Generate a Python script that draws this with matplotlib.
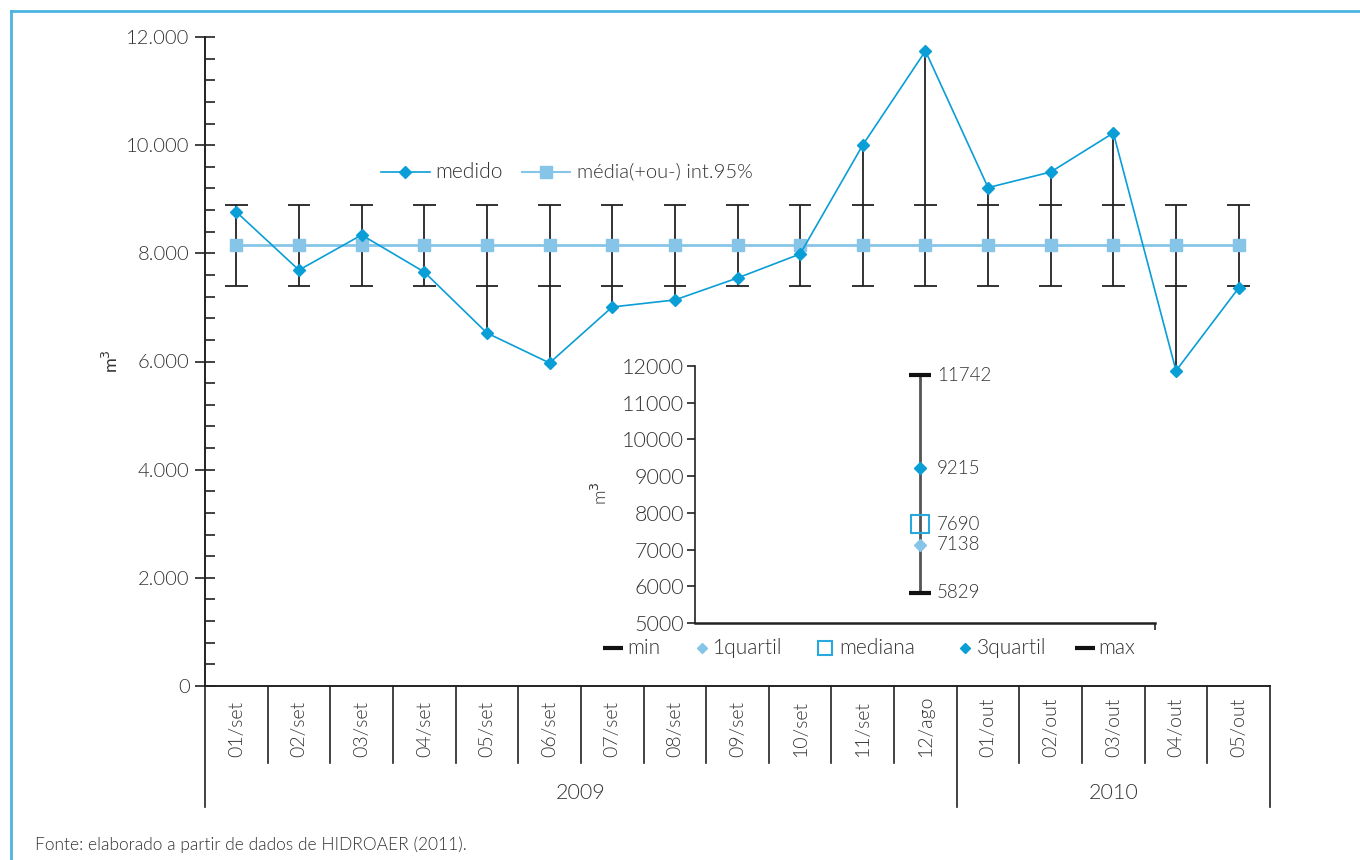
import matplotlib
matplotlib.use("Agg")
import matplotlib.pyplot as plt
from matplotlib.lines import Line2D
import numpy as np

plt.rcParams['font.family'] = ['Lato', 'DejaVu Sans']
plt.rcParams['font.weight'] = 300

# ---- data ----
categories = ["01/set", "02/set", "03/set", "04/set", "05/set", "06/set", "07/set",
              "08/set", "09/set", "10/set", "11/set", "12/ago", "01/out", "02/out",
              "03/out", "04/out", "05/out"]
years = ["2009", "2010"]
year_counts = [12, 5]
medido = [8765, 7690, 8340, 7655, 6527, 5973, 7008, 7138, 7544, 7988, 10004,
          11742, 9215, 9504, 10226, 5829, 7360]
media = [8160] * 17
ic_sup = [8900] * 17
ic_inf = [7390] * 17

inset_labels = ["min", "1quartil", "mediana", "3quartil", "max"]
inset_values = [5829, 7138, 7690, 9215, 11742]

main_yticks = [0, 2000, 4000, 6000, 8000, 10000, 12000]
main_yticklabels = ["0", "2.000", "4.000", "6.000", "8.000", "10.000", "12.000"]
inset_yticks = [5000, 6000, 7000, 8000, 9000, 10000, 11000, 12000]

C_MED = "#0a9ed6"
C_MEAN = "#86c5e8"
C_TXT = "#333333"
C_BAR = "#222222"

W, H = 1360, 860
fig = plt.figure(figsize=(13.6, 8.6), dpi=100)

def fx(x):
    return x / W

def fy(y):
    return 1 - y / H

# ---- main axes ----
ax = fig.add_axes([fx(205), fy(686), fx(1270) - fx(205), fy(37) - fy(686)])
x = np.arange(len(categories))

for i in range(len(categories)):
    lo = min(medido[i], ic_inf[i])
    hi = max(medido[i], ic_sup[i])
    ax.vlines(x[i], lo, hi, color=C_BAR, lw=1.3, zorder=2)
    ax.hlines([ic_sup[i], ic_inf[i]], x[i] - 0.18, x[i] + 0.18, color=C_BAR, lw=1.3, zorder=2)

ax.plot(x, media, color=C_MEAN, lw=2, marker='s', ms=9, mec=C_MEAN, mfc=C_MEAN, zorder=3)
ax.plot(x, medido, color=C_MED, lw=1.2, marker='D', ms=6, mec=C_MED, mfc=C_MED, zorder=4)

ax.set_xlim(-0.5, len(categories) - 0.5)
ax.set_ylim(0, 12000)
ax.set_yticks(main_yticks)
ax.set_yticklabels(main_yticklabels)
ax.set_yticks(np.arange(0, 12001, 400), minor=True)
ax.tick_params(axis='y', which='major', direction='inout', length=14, width=1.2,
               labelsize=14.5, labelcolor=C_TXT, color=C_BAR, pad=4)
ax.tick_params(axis='y', which='minor', direction='in', length=7, width=1.2, color=C_BAR)
ax.set_xticks([])
for s in ['top', 'right']:
    ax.spines[s].set_visible(False)
for s in ['left', 'bottom']:
    ax.spines[s].set_color(C_BAR)
    ax.spines[s].set_linewidth(1.4)
ax.set_ylabel("m$^3$", fontsize=13, color=C_TXT, labelpad=4)

# category separators and labels
tr = ax.get_xaxis_transform()
ax_h = 686 - 37
short = -(763 - 686) / ax_h
long_ = -(807 - 686) / ax_h
bounds = np.cumsum([0] + year_counts)
for i in range(len(categories) + 1):
    yb = long_ if i in bounds else short
    ax.add_line(Line2D([i - 0.5, i - 0.5], [0, yb], transform=tr, color=C_BAR,
                       lw=1.2, clip_on=False))
for i, c in enumerate(categories):
    ax.text(i, -(757 - 686) / ax_h, c, transform=tr, rotation=90, ha='center',
            va='bottom', fontsize=14, color=C_TXT)
for k, yr in enumerate(years):
    xc = (bounds[k] + bounds[k + 1] - 1) / 2
    ax.text(xc, -(793 - 686) / ax_h, yr, transform=tr, ha='center', va='center',
            fontsize=15.5, color=C_TXT)

# main legend (manual)
ly = fy(172)
fig.add_artist(Line2D([fx(381), fx(430)], [ly, ly], color=C_MED, lw=1.2))
fig.add_artist(Line2D([fx(405)], [ly], marker='D', ms=6, color=C_MED, lw=0))
fig.text(fx(435), ly, "medido", fontsize=15, color=C_TXT, va='center')
fig.add_artist(Line2D([fx(522), fx(570)], [ly, ly], color=C_MEAN, lw=1.5))
fig.add_artist(Line2D([fx(546)], [ly], marker='s', ms=9, color=C_MEAN, lw=0))
fig.text(fx(577), ly, "média(+ou-) int.95%", fontsize=14.5, color=C_TXT, va='center')

# ---- inset axes ----
ax2 = fig.add_axes([fx(695), fy(623), fx(1155) - fx(695), fy(366) - fy(623)])
ax2.set_xlim(0, 1)
ax2.set_ylim(5000, 12000)
bx = 0.49
ax2.vlines(bx, inset_values[0], inset_values[-1], color="#555555", lw=2, zorder=1)
ax2.plot([bx], [inset_values[0]], marker='_', ms=16, mew=3, color="#111111", zorder=3)
ax2.plot([bx], [inset_values[4]], marker='_', ms=16, mew=3, color="#111111", zorder=3)
ax2.plot([bx], [inset_values[1]], marker='D', ms=6, color=C_MEAN, lw=0, zorder=3)
ax2.plot([bx], [inset_values[2]], marker='s', ms=13, mfc='none', mec="#2aa7dc", mew=1.5, lw=0, zorder=3)
ax2.plot([bx], [inset_values[3]], marker='D', ms=6, color=C_MED, lw=0, zorder=3)
for v in inset_values:
    ax2.annotate(str(v), (bx, v), xytext=(12, 0), textcoords='offset points',
                 va='center', ha='left', fontsize=13.5, color=C_TXT)
ax2.set_yticks(inset_yticks)
ax2.set_yticklabels([str(v) for v in inset_yticks])
ax2.tick_params(axis='y', direction='out', length=6, width=1.2, labelsize=15.5,
                labelcolor=C_TXT, color=C_BAR, pad=2)
ax2.set_xticks([1])
ax2.set_xticklabels([""])
ax2.tick_params(axis='x', direction='out', length=5, width=1.2, color=C_BAR)
for s in ['top', 'right']:
    ax2.spines[s].set_visible(False)
ax2.spines['left'].set_color(C_BAR)
ax2.spines['left'].set_linewidth(1.2)
ax2.spines['bottom'].set_color(C_BAR)
ax2.spines['bottom'].set_linewidth(1.8)
ax2.patch.set_alpha(0)
fig.text(fx(600), fy(493), "m$^3$", rotation=90, fontsize=13, color=C_TXT,
         ha='center', va='center')

# inset legend (manual)
iy = fy(648)
items = [
    (613, 627, dict(marker='_', ms=14, mew=3, color="#111111")),
    (702, 713, dict(marker='D', ms=5, color=C_MEAN)),
    (825, 839, dict(marker='s', ms=10, mfc='none', mec="#2aa7dc", mew=1.5)),
    (965, 977, dict(marker='D', ms=5, color=C_MED)),
    (1085, 1098, dict(marker='_', ms=14, mew=3, color="#111111")),
]
for (mx, tx, kw), lab in zip(items, inset_labels):
    fig.add_artist(Line2D([fx(mx)], [iy], lw=0, **kw))
    fig.text(fx(tx), iy, lab, fontsize=15, color=C_TXT, va='center')

# frame lines and source
fig.add_artist(Line2D([fx(11), fx(11)], [0, fy(11)], color="#4bb4e0", lw=2))
fig.add_artist(Line2D([fx(11), 1], [fy(11), fy(11)], color="#4bb4e0", lw=2))
fig.text(fx(35), fy(845), "Fonte: elaborado a partir de dados de HIDROAER (2011).",
         fontsize=12.5, color=C_TXT, va='center')

fig.savefig("out.png", dpi=100)
